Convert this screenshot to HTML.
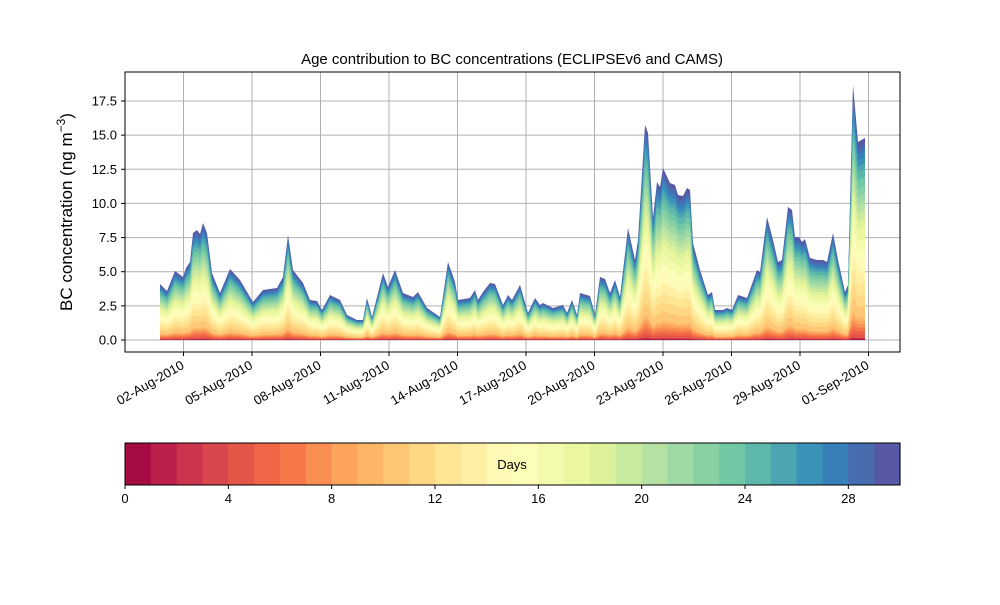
<!DOCTYPE html>
<html><head><meta charset="utf-8"><style>
body{margin:0;background:#fff;}
svg text{font-family:"Liberation Sans","DejaVu Sans",sans-serif;}
</style></head><body>
<svg id="s" width="1000" height="600" xmlns="http://www.w3.org/2000/svg">
<rect width="1000" height="600" fill="#fff"/>
<g id="grid" stroke="#b0b0b0" stroke-width="1"></g>
<g id="areas"></g>
<rect x="125" y="72" width="775" height="280" fill="none" stroke="#000" stroke-width="1"/>
<g id="ticks" font-size="13" fill="#000"></g>
<text x="512" y="64" font-size="15" text-anchor="middle">Age contribution to BC concentrations (ECLIPSEv6 and CAMS)</text>
<text transform="translate(72,212) rotate(-90)" font-size="17" text-anchor="middle">BC concentration (ng m<tspan dy="-7" font-size="12">−3</tspan><tspan dy="7">)</tspan></text>
<g id="cbar"></g>
<rect x="125" y="443" width="775" height="42" fill="none" stroke="#000" stroke-width="1"/>
<text x="512" y="469" font-size="13" text-anchor="middle">Days</text>
</svg>
<script>
const NS="http://www.w3.org/2000/svg";
function el(t,a,p,txt){const e=document.createElementNS(NS,t);for(const k in a)e.setAttribute(k,a[k]);if(txt!=null)e.textContent=txt;document.getElementById(p).appendChild(e);return e;}
const anchors=["#9e0142","#d53e4f","#f46d43","#fdae61","#fee08b","#ffffbf","#e6f598","#abdda4","#66c2a5","#3288bd","#5e4fa2"].map(h=>[1,3,5].map(i=>parseInt(h.substr(i,2),16)));
function spec(t){const p=t*10,i=Math.min(9,Math.floor(p)),f=p-i;const a=anchors[i],b=anchors[i+1];return "rgb("+a.map((v,j)=>Math.round(v+(b[j]-v)*f)).join(",")+")";}
const yt=[0,2.5,5,7.5,10,12.5,15,17.5];
const Y=v=>340-v*13.657;
yt.forEach(v=>{el("line",{x1:125,x2:900,y1:Y(v),y2:Y(v)},"grid");el("text",{x:117,y:Y(v)+4.5,"text-anchor":"end"},"ticks",v.toFixed(1));el("line",{x1:121,x2:125,y1:Y(v),y2:Y(v),stroke:"#000"},"ticks");});
const xl=["02-Aug-2010","05-Aug-2010","08-Aug-2010","11-Aug-2010","14-Aug-2010","17-Aug-2010","20-Aug-2010","23-Aug-2010","26-Aug-2010","29-Aug-2010","01-Sep-2010"];
xl.forEach((l,i)=>{const x=183.5+i*68.5;el("line",{x1:x,x2:x,y1:72,y2:352},"grid");el("line",{x1:x,x2:x,y1:352,y2:356,stroke:"#000"},"ticks");el("text",{transform:`translate(${x-3},${360}) rotate(-30)`,"text-anchor":"end",y:9},"ticks",l);});
const pts=[[160,284],[167,291],[175,271],[183,277],[186,268],[190,262],[193,233],[197,230],[200,234],[203,223],[207,233],[212,273],[220,293],[230,269],[240,280],[250,297],[253,302],[263,290],[277,288],[283,277],[288,235],[293,270],[303,283],[310,300],[317,301],[322,310],[330,295],[340,300],[347,315],[357,320],[363,320],[367,298],[372,317],[383,273],[388,287],[395,270],[403,293],[413,297],[418,292],[427,308],[440,317],[448,262],[455,282],[458,300],[470,298],[475,290],[478,300],[483,292],[490,283],[495,284],[503,305],[508,295],[512,300],[520,285],[528,313],[535,298],[540,305],[543,303],[553,308],[563,305],[567,313],[572,300],[577,315],[580,293],[590,296],[595,315],[600,277],[605,279],[610,293],[615,280],[620,297],[628,228],[635,260],[638,240],[645,125],[648,133],[653,218],[657,182],[660,187],[663,168],[670,183],[675,185],[678,195],[683,196],[687,188],[690,190],[693,243],[700,270],[708,295],[712,292],[715,310],[723,310],[727,308],[732,310],[738,295],[747,298],[757,270],[760,272],[767,217],[773,240],[778,262],[782,260],[788,207],[792,210],[795,237],[799,237],[802,242],[805,239],[810,258],[817,260],[823,260],[827,262],[833,233],[838,260],[845,292],[848,285],[853,85],[858,142],[865,138]];
const w=[];for(let k=0;k<30;k++){let v=k<4?0.003:k<10?0.016:k<18?0.055:k<25?0.04:0.03;w.push(v);}
const sw=w.reduce((a,b)=>a+b);let cum=0;const cf=w.map(v=>(cum+=v)/sw);
for(let k=29;k>=0;k--){
 let d="M160,340 ";
 pts.forEach(([x,y])=>{const h=340-y;d+=`L${x},${(340-h*cf[k]).toFixed(1)} `;});
 d+="L865,340 Z";
 el("path",{d:d,fill:spec((k+0.5)/30)},"areas");
}
for(let k=0;k<30;k++){el("rect",{x:125+k*775/30,y:443,width:775/30+0.6,height:42,fill:spec((k+0.5)/30)},"cbar");}
for(let v=0;v<=28;v+=4){const x=125+v*775/30;el("line",{x1:x,x2:x,y1:485,y2:489,stroke:"#000"},"cbar");el("text",{x:x,y:503,"text-anchor":"middle","font-size":13},"cbar",String(v));}
</script>
</body></html>
